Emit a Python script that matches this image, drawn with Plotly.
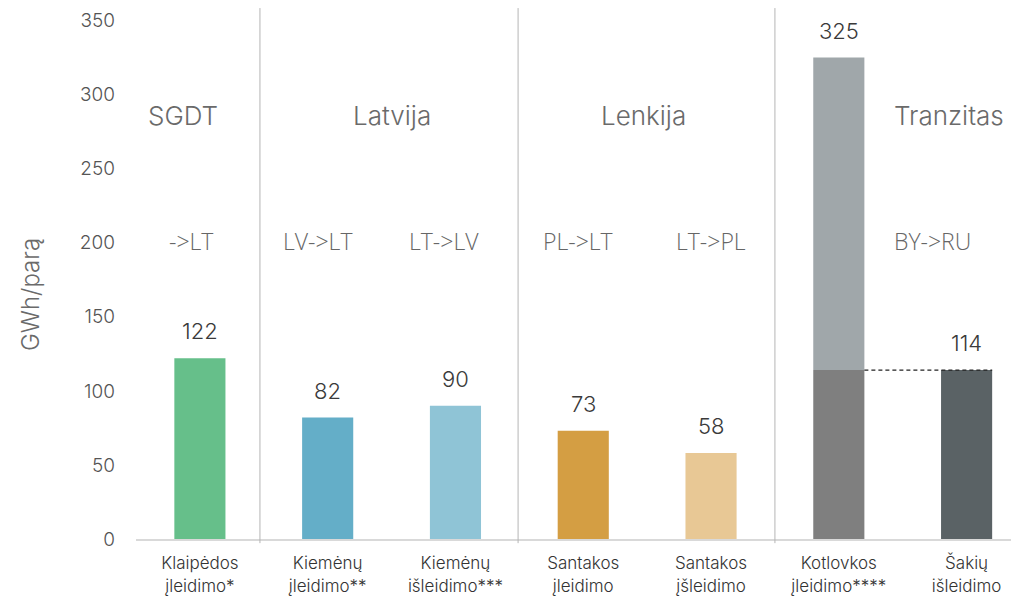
import plotly.graph_objects as go

categories = ["Klaipėdos<br>įleidimo*", "Kiemėnų<br>įleidimo**", "Kiemėnų<br>išleidimo***",
              "Santakos<br>įleidimo", "Santakos<br>įšleidimo", "Kotlovkos<br>įleidimo****",
              "Šakių<br>išleidimo"]
values = [122, 82, 90, 73, 58, 325, 114]
colors = ["#66bf8a", "#64aec8", "#8fc4d6", "#d49e43", "#e8c895", "#a0a7aa", "#5a6265"]
transit_base = 114  # lower part of Kotlovkos bar (equal to Šakių)

group_titles = ["SGDT", "Latvija", "Lenkija", "Tranzitas"]
group_title_x = [-0.13, 1.5, 3.47, 5.86]
group_title_y = 286
direction_labels = ["->LT", "LV->LT", "LT->LV", "PL->LT", "LT->PL", "BY->RU"]
direction_x = [-0.07, 0.92, 1.91, 2.96, 4.0, 5.73]
direction_y = 201
separators_x = [0.47, 2.49, 4.5]

FONT = "Inter, 'Open Sans', sans-serif"
FONT2 = "'Open Sans', sans-serif"
xs = list(range(len(categories)))

fig = go.Figure()

base_vals = list(values)
base_vals[5] = transit_base
base_cols = list(colors)
base_cols[5] = "#7f7f7f"
fig.add_trace(go.Bar(x=xs, y=base_vals, marker=dict(color=base_cols, line=dict(width=0)),
                     width=0.4, hoverinfo="x+y"))
fig.add_trace(go.Bar(x=[5], y=[values[5] - transit_base], base=[transit_base],
                     marker=dict(color=colors[5], line=dict(width=0)), width=0.4))

fig.add_trace(go.Scatter(x=[5.2, 6.2], y=[transit_base, transit_base], mode="lines",
                         line=dict(color="#222222", width=1.2, dash="4px,3px"), hoverinfo="skip"))

annotations = []
for x, v in zip(xs, values):
    annotations.append(dict(x=x, y=v, text=str(v), showarrow=False, yanchor="middle",
                            yshift=27, font=dict(family=FONT, size=22, color="#3a3a3a", weight=300)))
for t, x in zip(group_titles, group_title_x):
    annotations.append(dict(x=x, y=group_title_y, text=t, showarrow=False,
                            font=dict(family=FONT, size=26, color="#6a6a6a", weight=300)))
for t, x in zip(direction_labels, direction_x):
    annotations.append(dict(x=x, y=direction_y, text=t, showarrow=False,
                            font=dict(family=FONT2, size=23, color="#666666", weight=300)))
annotations.append(dict(xref="paper", yref="paper", x=-0.12, y=0.47, text="GWh/parą",
                        textangle=-90, showarrow=False, xanchor="center", yanchor="middle",
                        font=dict(family=FONT, size=24, color="#6a6a6a", weight=300)))

shapes = [dict(type="line", xref="x", yref="paper", x0=sx, x1=sx, y0=-0.008, y1=1.023,
               line=dict(color="#b5b5b5", width=1)) for sx in separators_x]

fig.update_layout(
    width=1019, height=597,
    margin=dict(l=128, r=8, t=12, b=66, autoexpand=False),
    plot_bgcolor="white", paper_bgcolor="white",
    barmode="overlay", showlegend=False,
    annotations=annotations, shapes=shapes,
    font=dict(family=FONT, color="#555555"),
    xaxis=dict(range=[-0.5, 6.41], tickmode="array", tickvals=xs, ticktext=categories,
               showgrid=False, zeroline=False, showline=True, linecolor="#d9d9d9",
               linewidth=2, ticks="", ticklabelstandoff=8, automargin=False,
               tickfont=dict(family=FONT, size=17, color="#333333", weight=300)),
    yaxis=dict(range=[0, 350.34], tickmode="array", tickvals=[0, 50, 100, 150, 200, 250, 300, 350],
               showgrid=False, zeroline=False, showline=False, ticks="", ticklabelstandoff=20,
               automargin=False,
               tickfont=dict(family=FONT, size=19, color="#555555", weight=300)),
)

fig.write_html("out.html")
